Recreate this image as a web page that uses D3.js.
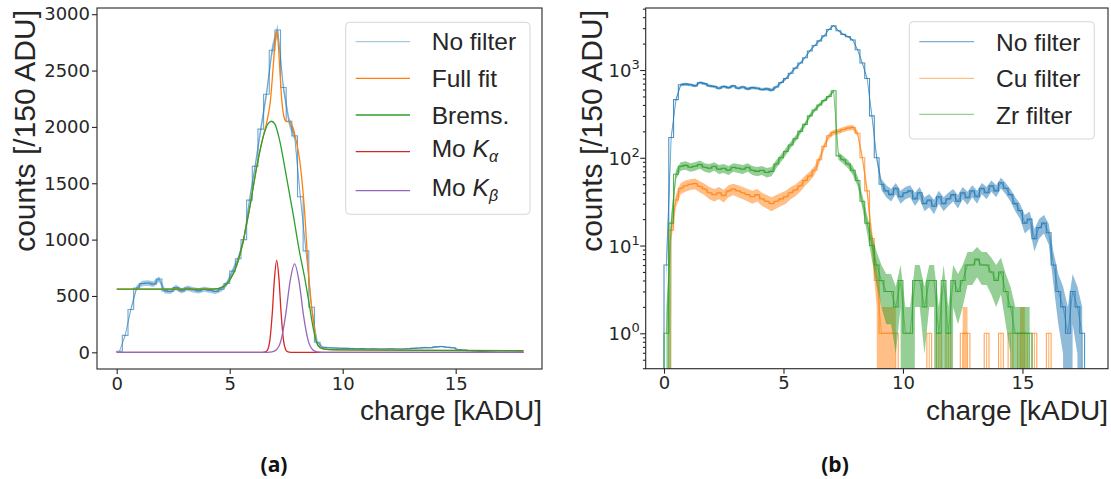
<!DOCTYPE html>
<html><head><meta charset="utf-8">
<script src="https://cdn.jsdelivr.net/npm/d3@7"></script>
<style>
body{margin:0;background:#fff;}
svg{display:block;}
</style></head>
<body>
<svg id="chart" width="1111" height="479"></svg>
<script>
// ================= DATA =================
// (a) histogram, counts per bin, bins of width leftBinWidth starting at 0
const leftBinWidth = 0.25;
const leftNoFilter = [
  10, 150, 380, 570, 610, 615, 605, 650, 545, 540,
  575, 545, 570, 555, 545, 560, 550, 540, 560, 610,
  720, 830, 1000, 1350, 1650, 1980, 2290, 2680, 2860, 2350,
  2050, 1920, 1380, 900, 400, 90, 45, 40, 38, 36,
  35, 34, 32, 33, 30, 32, 30, 30, 32, 30,
  30, 32, 35, 38, 42, 40, 48, 52, 45, 40,
  25, 20, 15, 12, 8, 4, 2, 1, 0, 0,
  0, 0
];
// (a) fit curves sampled as [charge, counts]
const fitFull = [[0,560],[4.0,560],[4.5,566],[4.8,592],[5.0,640],[5.3,765],[5.6,990],[5.9,1300],[6.2,1650],[6.5,1930],[6.65,2050],[6.8,2230],[6.92,2520],[7.0,2730],[7.07,2850],[7.14,2760],[7.22,2500],[7.3,2250],[7.4,2090],[7.5,2050],[7.65,2045],[7.8,1990],[7.95,1870],[8.1,1700],[8.2,1520],[8.3,1290],[8.47,760],[8.6,450],[8.7,280],[8.85,85],[9.0,42],[9.3,26],[10,22],[14,17],[18,14]];
const fitBrems = [[0,560],[4.0,560],[4.5,566],[4.8,592],[5.0,640],[5.3,765],[5.6,990],[5.9,1300],[6.2,1650],[6.5,1925],[6.7,2030],[6.85,2050],[7.0,2025],[7.2,1890],[7.5,1570],[7.8,1235],[8.1,880],[8.3,680],[8.5,450],[8.7,210],[8.85,85],[9.0,42],[9.3,26],[10,22],[14,17],[18,14]];
const fitMoKa = [[0,0],[6.45,0],[6.58,3],[6.68,23],[6.78,110],[6.88,335],[6.98,652],[7.08,815],[7.18,652],[7.28,335],[7.38,110],[7.48,23],[7.58,3],[7.7,0],[18,0]];
const fitMoKb = [[0,0],[6.67,0],[6.87,3],[7.07,23],[7.27,106],[7.47,323],[7.67,628],[7.87,785],[8.07,628],[8.27,323],[8.47,106],[8.67,23],[8.87,3],[9.07,0],[18,0]];

// (b) histograms, bins of width rightBinWidth starting at 0
const rightBinWidth = 0.2;
const rightNoFilter = [
  6, 170, 460, 680, 690, 680, 660, 720, 700, 660,
  650, 620, 650, 630, 660, 620, 640, 610, 630, 620,
  600, 610, 590, 640, 720, 800, 920, 1050, 1200, 1380,
  1650, 1900, 2150, 2450, 2900, 3200, 2800, 2550, 2400, 2200,
  1700, 1200, 800, 300, 100, 50, 42, 38, 45, 36,
  40, 42, 34, 40, 30, 33, 28, 36, 30, 34,
  38, 32, 40, 35, 42, 36, 45, 40, 48, 42,
  52, 45, 38, 30, 25, 18, 20, 12, 16, 18,
  14, 6, 3, 2, 1, 3, 2, 1, 0, 0
];
const rightCu = [
  0, 15, 33, 45, 48, 50, 51, 47, 44, 40,
  38, 40, 37, 42, 44, 42, 40, 38, 36, 38,
  34, 32, 30, 32, 34, 36, 40, 43, 48, 55,
  62, 72, 95, 135, 178, 195, 200, 210, 218, 222,
  190, 100, 42, 12, 4, 1, 1, 1, 1, 0,
  0, 0, 0, 0, 0, 1, 0, 1, 0, 1,
  0, 0, 1, 1, 0, 0, 0, 1, 0, 0,
  1, 0, 1, 0, 1, 1, 0, 1, 0, 0,
  1, 0, 0, 0, 0, 0, 0, 0, 0, 0
];
const rightZr = [
  1, 18, 65, 80, 82, 78, 80, 84, 78, 76,
  80, 74, 76, 72, 78, 76, 74, 78, 72, 70,
  72, 68, 70, 85, 100, 118, 140, 165, 200, 240,
  300, 350, 400, 450, 500, 580, 105, 95, 85, 72,
  55, 32, 18, 10, 6, 4, 3, 3, 2, 4,
  1, 1, 4, 4, 2, 4, 4, 1, 4, 1,
  4, 3, 4, 6, 6, 7, 6, 6, 5, 4,
  5, 3, 2, 1, 1, 1, 1, 0, 0, 0,
  0, 0, 0, 0, 0, 0, 0, 0, 0, 0
];

// ticks & labels
const xTicks = [0, 5, 10, 15];
const leftYTicks = [0, 500, 1000, 1500, 2000, 2500, 3000];
const rightYTicks = [1, 10, 100, 1000];
const xLabel = "charge [kADU]";
const yLabel = "counts [/150 ADU]";
const leftLegend = [
  {name:"No filter", sub:null},
  {name:"Full fit", sub:null},
  {name:"Brems.", sub:null},
  {name:"Mo ", italic:"K", sub:"α"},
  {name:"Mo ", italic:"K", sub:"β"}
];
const rightLegend = ["No filter", "Cu filter", "Zr filter"];
const captions = ["(a)", "(b)"];

// ================= LAYOUT =================
const TEXT = "#262626";
const C = {blue:"#1f77b4", orange:"#ff7f0e", green:"#2ca02c", red:"#d62728", purple:"#9467bd"};
const svg = d3.select("#chart");
const L = {x0:97, x1:542, y0:8, y1:369};
const R = {x0:645.7, x1:1108, y0:8, y1:368.7};

const xL = d3.scaleLinear().domain([-0.872, 18.82]).range([L.x0, L.x1]);
const yL = d3.scaleLinear().domain([-148, 3055]).range([L.y1, L.y0]);
const xR = d3.scaleLinear().domain([-0.766, 18.58]).range([R.x0, R.x1]);
const yR = d3.scaleLog().domain([0.395, 5090]).range([R.y1, R.y0]);

const defs = svg.append("defs");
[["clipL", L], ["clipR", R]].forEach(([id, P]) => {
  defs.append("clipPath").attr("id", id).append("rect")
    .attr("x", P.x0).attr("y", P.y0).attr("width", P.x1 - P.x0).attr("height", P.y1 - P.y0);
});

const TINY = 1e-30;
function stepPts(counts, w) {
  const pts = [[0, 0]];
  counts.forEach((c, i) => { pts.push([i * w, c]); pts.push([(i + 1) * w, c]); });
  pts.push([counts.length * w, 0]);
  return pts;
}
function centers(counts, w) {
  return counts.map((c, i) => ({x: (i + 0.5) * w, n: c, lo: c - Math.sqrt(c), hi: c + Math.sqrt(c)}));
}

function drawSeries(g, counts, w, x, y, color, isLog, op) {
  const fy = v => y(isLog ? Math.max(v, TINY) : v);
  const cs = centers(counts, w);
  g.append("path").datum(cs)
    .attr("d", d3.area().x(d => x(d.x)).y0(d => fy(d.lo)).y1(d => fy(d.hi)))
    .attr("fill", color).attr("fill-opacity", op.band).attr("stroke", "none");
  g.append("path").datum(stepPts(counts, w))
    .attr("d", d3.line().x(d => x(d[0])).y(d => fy(d[1])))
    .attr("fill", "none").attr("stroke", color).attr("stroke-opacity", op.step).attr("stroke-width", 1.1);
  g.append("path").datum(cs)
    .attr("d", d3.line().x(d => x(d.x)).y(d => fy(d.n)))
    .attr("fill", "none").attr("stroke", color).attr("stroke-opacity", op.line).attr("stroke-width", 1.1);
}

// ---------- panel (a) ----------
const gL = svg.append("g").attr("clip-path", "url(#clipL)");
drawSeries(gL, leftNoFilter, leftBinWidth, xL, yL, C.blue, false, {band:0.4, step:0.65, line:0.4});
const fitLine = d3.line().x(d => xL(d[0])).y(d => yL(d[1])).curve(d3.curveMonotoneX);
[[fitFull, C.orange], [fitBrems, C.green], [fitMoKa, C.red], [fitMoKb, C.purple]].forEach(([pts, col]) => {
  gL.append("path").datum(pts).attr("d", fitLine).attr("fill", "none").attr("stroke", col).attr("stroke-width", 1.3);
});

// ---------- panel (b) ----------
const gR = svg.append("g").attr("clip-path", "url(#clipR)");
drawSeries(gR, rightNoFilter, rightBinWidth, xR, yR, C.blue, true, {band:0.5, step:0.8, line:0.5});
drawSeries(gR, rightCu, rightBinWidth, xR, yR, C.orange, true, {band:0.5, step:0.7, line:0.5});
drawSeries(gR, rightZr, rightBinWidth, xR, yR, C.green, true, {band:0.5, step:0.8, line:0.5});

// ---------- axes ----------
function styleAxis(g) {
  g.select(".domain").remove();
  g.attr("font-family", "DejaVu Sans").attr("font-size", 18);
  g.selectAll(".tick line").attr("stroke", TEXT).attr("stroke-width", 1.1);
  g.selectAll(".tick text").attr("fill", TEXT);
}
styleAxis(svg.append("g").attr("transform", `translate(0,${L.y1})`)
  .call(d3.axisBottom(xL).tickValues(xTicks).tickSize(5).tickPadding(3)));
styleAxis(svg.append("g").attr("transform", `translate(${L.x0},0)`)
  .call(d3.axisLeft(yL).tickValues(leftYTicks).tickSize(5).tickPadding(2).tickFormat(d3.format("d"))));
styleAxis(svg.append("g").attr("transform", `translate(0,${R.y1})`)
  .call(d3.axisBottom(xR).tickValues(xTicks).tickSize(5).tickPadding(3)));

// log axis: major + minor ticks
const [lo, hi] = yR.domain();
const minor = [];
for (let k = -1; k <= 3; k++) for (let m = 2; m <= 9; m++) { const v = m * Math.pow(10, k); if (v >= lo && v <= hi) minor.push(v); }
styleAxis(svg.append("g").attr("transform", `translate(${R.x0},0)`)
  .call(d3.axisLeft(yR).tickValues(minor).tickSize(2.8).tickFormat(() => "")));
const gMaj = svg.append("g").attr("transform", `translate(${R.x0},0)`)
  .call(d3.axisLeft(yR).tickValues(rightYTicks).tickSize(5.5).tickFormat(() => ""));
styleAxis(gMaj);
const majLab = svg.append("g").attr("font-family", "DejaVu Sans").attr("fill", TEXT);
rightYTicks.forEach(v => {
  const t = majLab.append("text").attr("x", R.x0 - 6).attr("y", yR(v) + 7).attr("text-anchor", "end");
  t.append("tspan").attr("font-size", 18).text("10");
  t.append("tspan").attr("font-size", 13).attr("dy", -8).text(String(Math.round(Math.log10(v))));
});

// frames
[L, R].forEach(P => {
  svg.append("rect").attr("x", P.x0).attr("y", P.y0).attr("width", P.x1 - P.x0).attr("height", P.y1 - P.y0)
    .attr("fill", "none").attr("stroke", TEXT).attr("stroke-width", 1.1);
});

// axis labels
const LABF = "Liberation Sans";
[[L, 35], [R, 601.5]].forEach(([P, bx]) => {
  svg.append("text").attr("x", P.x1).attr("y", 420).attr("text-anchor", "end")
    .attr("font-family", LABF).attr("font-size", 28).attr("fill", TEXT).text(xLabel);
  svg.append("text").attr("transform", `translate(${bx},${P.y0 + 2}) rotate(-90)`).attr("text-anchor", "end")
    .attr("font-family", LABF).attr("font-size", 30).attr("fill", TEXT).text(yLabel);
});

// legends
function legendBox(x0, y0, x1, y1) {
  svg.append("rect").attr("x", x0).attr("y", y0).attr("width", x1 - x0).attr("height", y1 - y0)
    .attr("rx", 4).attr("fill", "#fff").attr("fill-opacity", 0.8).attr("stroke", "#d6d6d6").attr("stroke-width", 1);
}
legendBox(345.7, 22.3, 530, 214.3);
const leftRowsLine = [41.7, 78.3, 115, 151.7, 190.7];
const leftRowsText = [50, 87.3, 123.5, 157.3, 195.7];
const leftCols = [{c:C.blue, o:0.4}, {c:C.orange, o:1}, {c:C.green, o:1}, {c:C.red, o:1}, {c:C.purple, o:1}];
leftLegend.forEach((d, i) => {
  svg.append("line").attr("x1", 355.7).attr("x2", 410).attr("y1", leftRowsLine[i]).attr("y2", leftRowsLine[i])
    .attr("stroke", leftCols[i].c).attr("stroke-opacity", leftCols[i].o).attr("stroke-width", 1.3);
  const t = svg.append("text").attr("x", 431.7).attr("y", leftRowsText[i])
    .attr("font-family", LABF).attr("font-size", 24.5).attr("fill", TEXT);
  t.append("tspan").text(d.name);
  if (d.italic) {
    t.append("tspan").attr("font-style", "italic").text(d.italic);
    t.append("tspan").attr("font-size", 16).attr("font-style", "italic").attr("dy", 5).text(d.sub);
  }
});
legendBox(909.3, 21.7, 1094.3, 139);
const rightRowsLine = [41.7, 78.3, 114.3];
const rightRowsText = [50.7, 87.3, 124];
const rightCols = [{c:C.blue, o:0.6}, {c:C.orange, o:0.5}, {c:C.green, o:0.5}];
rightLegend.forEach((name, i) => {
  svg.append("line").attr("x1", 919.3).attr("x2", 974).attr("y1", rightRowsLine[i]).attr("y2", rightRowsLine[i])
    .attr("stroke", rightCols[i].c).attr("stroke-opacity", rightCols[i].o).attr("stroke-width", 1.3);
  svg.append("text").attr("x", 996).attr("y", rightRowsText[i])
    .attr("font-family", LABF).attr("font-size", 24.5).attr("fill", TEXT).text(name);
});

// captions
[[274, captions[0]], [835, captions[1]]].forEach(([cx, s]) => {
  svg.append("text").attr("x", cx).attr("y", 472).attr("text-anchor", "middle")
    .attr("font-family", "Open Sans").attr("font-weight", "bold").attr("font-size", 21).attr("fill", "#111").text(s);
});
</script>
</body></html>
